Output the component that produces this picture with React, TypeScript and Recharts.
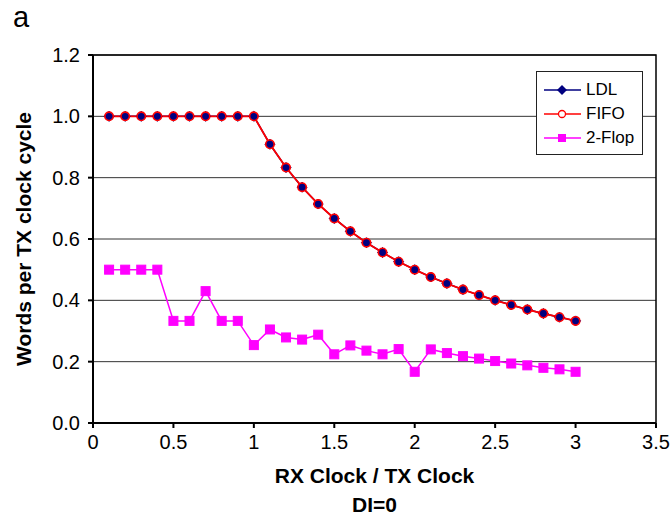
import React from 'react';
import { LineChart, Line, XAxis, YAxis, CartesianGrid, Label, ReferenceArea } from 'recharts';

const xValues = [0.1, 0.2, 0.3, 0.4, 0.5, 0.6, 0.7, 0.8, 0.9, 1.0, 1.1, 1.2, 1.3, 1.4, 1.5, 1.6, 1.7, 1.8, 1.9, 2.0, 2.1, 2.2, 2.3, 2.4, 2.5, 2.6, 2.7, 2.8, 2.9, 3.0];
const ldlValues = [1, 1, 1, 1, 1, 1, 1, 1, 1, 1, 0.909, 0.833, 0.769, 0.714, 0.667, 0.625, 0.588, 0.556, 0.526, 0.5, 0.476, 0.455, 0.435, 0.417, 0.4, 0.385, 0.37, 0.357, 0.345, 0.333];
const fifoValues = [1, 1, 1, 1, 1, 1, 1, 1, 1, 1, 0.909, 0.833, 0.769, 0.714, 0.667, 0.625, 0.588, 0.556, 0.526, 0.5, 0.476, 0.455, 0.435, 0.417, 0.4, 0.385, 0.37, 0.357, 0.345, 0.333];
const flopValues = [0.5, 0.5, 0.5, 0.5, 0.333, 0.333, 0.43, 0.333, 0.333, 0.254, 0.305, 0.279, 0.272, 0.288, 0.224, 0.253, 0.236, 0.224, 0.241, 0.167, 0.24, 0.228, 0.218, 0.21, 0.202, 0.194, 0.188, 0.18, 0.175, 0.167];
const xTicks = [0, 0.5, 1, 1.5, 2, 2.5, 3, 3.5];
const yTicks = [0, 0.2, 0.4, 0.6, 0.8, 1.0, 1.2];

const data = xValues.map((x, i) => ({ x, ldl: ldlValues[i], fifo: fifoValues[i], flop: flopValues[i] }));

const FONT = '"Liberation Sans", Arial, sans-serif';

const Diamond = (props: any) => {
  const { cx, cy } = props;
  if (cx == null || cy == null) return null;
  const r = 5;
  return <path d={`M${cx},${cy - r}L${cx + r},${cy}L${cx},${cy + r}L${cx - r},${cy}Z`} fill="#000080" stroke="#000080" strokeWidth={1} />;
};
const Ring = (props: any) => {
  const { cx, cy } = props;
  if (cx == null || cy == null) return null;
  return <circle cx={cx} cy={cy} r={4.2} fill="none" stroke="#FF0000" strokeWidth={1.6} />;
};
const Square = (props: any) => {
  const { cx, cy } = props;
  if (cx == null || cy == null) return null;
  return <rect x={cx - 4.5} y={cy - 4.5} width={9} height={9} fill="#FF00FF" stroke="#FF00FF" />;
};

const legendItems = [
  { name: 'LDL', color: '#000080', kind: 'diamond' },
  { name: 'FIFO', color: '#FF0000', kind: 'ring' },
  { name: '2-Flop', color: '#FF00FF', kind: 'square' },
];

const LegendBox = () => (
  <div style={{ position: 'absolute', left: 536, top: 71, width: 105, height: 82, border: '1.5px solid #222', background: '#fff', fontFamily: FONT, fontSize: 17, boxSizing: 'content-box' }}>
    <div style={{ paddingTop: 6 }}>
      {legendItems.map((it) => (
        <div key={it.name} style={{ display: 'flex', alignItems: 'center', height: 24 }}>
          <svg width={46} height={14} style={{ display: 'block' }}>
            <line x1={7} y1={7} x2={44} y2={7} stroke={it.color} strokeWidth={1.5} />
            {it.kind === 'diamond' && <path d="M25,2L30,7L25,12L20,7Z" fill={it.color} />}
            {it.kind === 'ring' && <circle cx={25} cy={7} r={3.5} fill="#fff" stroke={it.color} strokeWidth={1.3} />}
            {it.kind === 'square' && <rect x={21} y={3} width={8} height={8} fill={it.color} />}
          </svg>
          <span style={{ marginLeft: 3, color: '#000', lineHeight: '24px' }}>{it.name}</span>
        </div>
      ))}
    </div>
  </div>
);

export default function App() {
  return (
    <div style={{ position: 'absolute', left: 0, top: 0, width: 670, height: 517, background: '#fff', fontFamily: FONT }}>
      <LineChart width={670} height={517} data={data} margin={{ top: 55, right: 14, bottom: 0, left: 0 }}>
        <CartesianGrid vertical={false} stroke="#333" strokeWidth={1} />
        <ReferenceArea x1={0} x2={3.5} y1={0} y2={1.2} fill="none" stroke="#000" strokeWidth={1.5} ifOverflow="visible" />
        <XAxis
          dataKey="x"
          type="number"
          domain={[0, 3.5]}
          ticks={xTicks}
          tickFormatter={(v: number) => String(v)}
          tickSize={5}
          tickMargin={7}
          height={94}
          stroke="#000"
          strokeWidth={2}
          tick={{ fill: '#000', fontSize: 20, fontFamily: FONT }}
        >
          <Label value="RX Clock / TX Clock" position="insideTop" offset={45} style={{ fontSize: 21, fontWeight: 'bold', fill: '#000', fontFamily: FONT }} />
          <Label value="DI=0" position="insideTop" offset={74} style={{ fontSize: 21, fontWeight: 'bold', fill: '#000', fontFamily: FONT }} />
        </XAxis>
        <YAxis
          type="number"
          domain={[0, 1.2]}
          ticks={yTicks}
          tickFormatter={(v: number) => v.toFixed(1)}
          tickSize={5}
          tickMargin={8}
          width={93}
          stroke="#000"
          strokeWidth={2}
          tick={{ fill: '#000', fontSize: 20, fontFamily: FONT }}
        >
          <Label value="Words per TX clock cycle" angle={-90} position="insideLeft" offset={24} style={{ textAnchor: 'middle', fontSize: 21, fontWeight: 'bold', fill: '#000', fontFamily: FONT }} />
        </YAxis>
        <Line dataKey="ldl" name="LDL" stroke="#000080" strokeWidth={1.5} dot={<Diamond />} isAnimationActive={false} />
        <Line dataKey="fifo" name="FIFO" stroke="#FF0000" strokeWidth={1.8} dot={<Ring />} isAnimationActive={false} />
        <Line dataKey="flop" name="2-Flop" stroke="#FF00FF" strokeWidth={1.5} dot={<Square />} isAnimationActive={false} />
      </LineChart>
      <LegendBox />
      <div style={{ position: 'absolute', left: 13, top: 1, fontSize: 29, lineHeight: 'normal', fontFamily: FONT, color: '#000' }}>a</div>
    </div>
  );
}
